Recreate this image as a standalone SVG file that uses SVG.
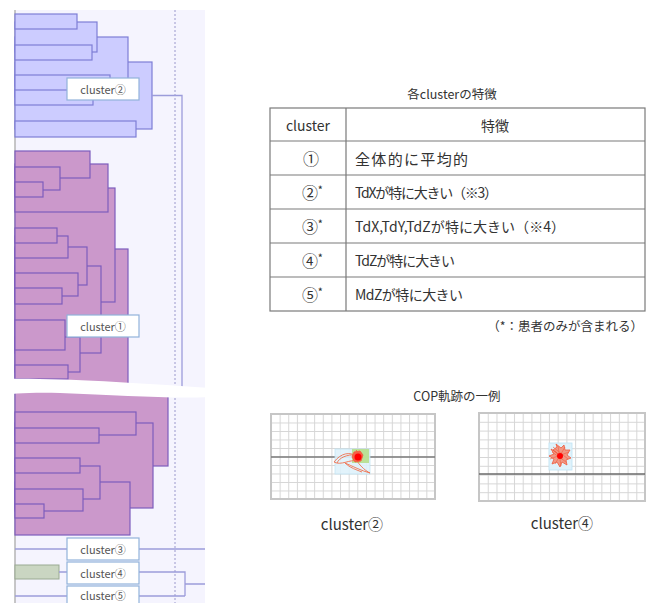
<svg xmlns="http://www.w3.org/2000/svg" width="653" height="603" viewBox="0 0 653 603">
<style>
  text { font-family: "Noto Sans CJK JP", "Noto Sans", sans-serif; fill: #333; }
  .blue rect { fill: #ccccff; stroke: #7e7ed6; stroke-width: 1.2; }
  .purp rect { fill: #cb98cb; stroke: #7d5cbd; stroke-width: 1.2; }
  .lbl rect { fill: #fff; stroke: #92b2da; stroke-width: 1.2; }
  .lbl text { font-size: 11px; fill: #555; text-anchor: middle; dominant-baseline: central; }
  .conn { fill: none; stroke: #9c9cda; stroke-width: 1.3; }
  .tbl { fill: none; stroke: #7a7a7a; stroke-width: 1.2; }
  .cell { font-size: 14px; dominant-baseline: central; }
  .num { font-size: 16px; dominant-baseline: central; }
  .grid-border { stroke: #c6c6c6; stroke-width: 2; }
</style>
<defs>
  <clipPath id="upper"><rect x="0" y="0" width="260" height="390"/></clipPath>
  <clipPath id="lower"><rect x="0" y="386" width="260" height="217"/></clipPath>
  <pattern id="gl" patternUnits="userSpaceOnUse" x="271" y="414" width="8.63" height="8.5">
    <path d="M0,0.5 H8.63 M0.5,0 V8.5" stroke="#d6d6d6" stroke-width="1" fill="none"/>
  </pattern>
  <pattern id="gr" patternUnits="userSpaceOnUse" x="479" y="413" width="8.74" height="8.8">
    <path d="M0,0.5 H8.74 M0.5,0 V8.8" stroke="#d6d6d6" stroke-width="1" fill="none"/>
  </pattern>
</defs>
<rect width="653" height="603" fill="#fff"/>
<!-- dendrogram panel -->
<rect x="15" y="10" width="190" height="593" fill="#f5f4fe"/>
<line x1="175" y1="10" x2="175" y2="603" stroke="#9a98cc" stroke-width="1" stroke-dasharray="2,2"/>
<line x1="15" y1="10" x2="15" y2="603" stroke="#b4b4b4" stroke-width="1.5"/>

<g id="cluster2-tree" class="blue">
  <rect x="15" y="62" width="137" height="67"/>
  <rect x="15" y="121" width="121" height="16"/>
  <rect x="15" y="37" width="113" height="49"/>
  <rect x="15" y="22" width="82" height="30"/>
  <rect x="15" y="14" width="62" height="15"/>
  <rect x="15" y="45" width="77" height="15"/>
  <rect x="15" y="75" width="95" height="22"/>
  <rect x="15" y="90" width="78" height="15"/>
</g>

<g id="cluster1-tree" class="purp" clip-path="url(#upper)">
  <rect x="15" y="249" width="113" height="160"/>
  <rect x="15" y="188" width="100" height="114"/>
  <rect x="15" y="164" width="93" height="48"/>
  <rect x="15" y="151" width="75" height="27"/>
  <rect x="15" y="167" width="45" height="23"/>
  <rect x="15" y="182" width="28" height="15"/>
  <rect x="15" y="266" width="86" height="87"/>
  <rect x="15" y="247" width="72" height="38"/>
  <rect x="15" y="236" width="53" height="22"/>
  <rect x="15" y="228" width="42" height="15"/>
  <rect x="15" y="273" width="63" height="23"/>
  <rect x="15" y="288" width="47" height="16"/>
  <rect x="15" y="337" width="65" height="35"/>
  <rect x="15" y="320" width="50" height="30"/>
  <rect x="15" y="365" width="53" height="14"/>
</g>

<g id="cluster1-tree-lower" class="purp" clip-path="url(#lower)">
  <rect x="15" y="370" width="153" height="96"/>
  <rect x="15" y="423" width="138" height="85"/>
  <rect x="15" y="412" width="121" height="23"/>
  <rect x="15" y="428" width="84" height="15"/>
  <rect x="15" y="482" width="115" height="53"/>
  <rect x="15" y="466" width="85" height="33"/>
  <rect x="15" y="458" width="65" height="15"/>
  <rect x="15" y="489" width="68" height="22"/>
  <rect x="15" y="504" width="29" height="14"/>
</g>

<g id="cluster4-leaf">
  <rect x="15" y="565" width="44" height="14" fill="#cad6c2" stroke="#9aaa92" stroke-width="1"/>
</g>

<g id="connectors">
  <path class="conn" d="M152,95.5 H182 V390"/>
  <path class="conn" d="M15,549 H67 M139,549 H205"/>
  <path class="conn" d="M59,572 H67 M139,572 H185 V596 M185,584 H205"/>
  <path class="conn" d="M15,596 H67 M139,596 H185"/>
</g>

<!-- omission break -->
<path d="M0,379 C60,378 120,382 210,388 L210,397 C170,399 120,395 60,393 C30,392 10,394 0,395 Z" fill="#fff"/>

<g id="label-cluster2" class="lbl"><rect x="67" y="78" width="72" height="22"/><text x="103" y="89">cluster②</text></g>
<g id="label-cluster1" class="lbl"><rect x="67" y="315" width="72" height="22"/><text x="103" y="326">cluster①</text></g>
<g id="label-cluster3" class="lbl"><rect x="67" y="538" width="72" height="22"/><text x="103" y="549">cluster③</text></g>
<g id="label-cluster4" class="lbl"><rect x="67" y="562" width="72" height="22"/><text x="103" y="573">cluster④</text></g>
<g id="label-cluster5" class="lbl"><rect x="67" y="586" width="72" height="22"/><text x="103" y="595">cluster⑤</text></g>

<!-- table -->
<g id="table">
  <text x="452" y="93" font-size="12.5" text-anchor="middle" dominant-baseline="central">各clusterの特徴</text>
  <rect class="tbl" x="270" y="108" width="375" height="203"/>
  <path class="tbl" d="M270,141 H645 M270,175 H645 M270,209 H645 M270,243 H645 M270,277 H645 M346,108 V311"/>
  <text class="cell" x="308" y="125" text-anchor="middle">cluster</text>
  <text class="cell" x="495" y="125" text-anchor="middle">特徴</text>
  <text class="num" x="303" y="158">①</text>
  <text class="num" x="302" y="192">②<tspan font-size="9" font-weight="bold" dy="-3">*</tspan></text>
  <text class="num" x="302" y="226">③<tspan font-size="9" font-weight="bold" dy="-3">*</tspan></text>
  <text class="num" x="302" y="260">④<tspan font-size="9" font-weight="bold" dy="-3">*</tspan></text>
  <text class="num" x="302" y="294">⑤<tspan font-size="9" font-weight="bold" dy="-3">*</tspan></text>
  <text class="cell" x="355" y="158" style="font-size:15px" textLength="113">全体的に平均的</text>
  <text class="cell" x="355" y="192" textLength="143">TdXが特に大きい（※3）</text>
  <text class="cell" x="355" y="226" textLength="210">TdX,TdY,TdZが特に大きい（※4）</text>
  <text class="cell" x="355" y="260" textLength="100">TdZが特に大きい</text>
  <text class="cell" x="355" y="294" textLength="108">MdZが特に大きい</text>
  <text x="643" y="325" font-size="12.5" text-anchor="end" dominant-baseline="central">（*：患者のみが含まれる）</text>
</g>

<!-- COP examples -->
<text x="457" y="395" font-size="12.5" text-anchor="middle" dominant-baseline="central">COP軌跡の一例</text>

<g id="cop-cluster2">
  <rect x="271" y="414" width="164" height="85" fill="url(#gl)" class="grid-border"/>
  <line x1="271" y1="457" x2="435" y2="457" stroke="#7a7a7a" stroke-width="1.6"/>
  <rect x="335" y="449" width="35" height="25" fill="#dff2fb" stroke="#bfe3f4" stroke-width="0.8" opacity="0.9"/>
  <rect x="352" y="449" width="17" height="14" fill="#b6df8c" opacity="0.9"/>
  <path d="M358,457 C350,451 341,453 334,462 C341,466 350,459 357,461 C361,467 366,471 370,473 C362,471 352,466 345,463 C350,468 357,470 362,472 M356,455 C347,454 339,458 337,463" fill="none" stroke="#f0704e" stroke-width="0.9"/>
  <path d="M354,452 L360,451 L363,455 L361,461 L355,462 L352,457 Z M356,450 L362,458 M353,460 L362,453" fill="#f46048" stroke="#f25a3e" stroke-width="0.8"/>
  <circle cx="358" cy="457" r="3.5" fill="#ff0000"/>
  <text x="352" y="523" font-size="15" text-anchor="middle" dominant-baseline="central">cluster②</text>
</g>

<g id="cop-cluster4">
  <rect x="479" y="413" width="166" height="88" fill="url(#gr)" class="grid-border"/>
  <line x1="479" y1="474" x2="645" y2="474" stroke="#6a6a6a" stroke-width="1.6"/>
  <rect x="549" y="443" width="23" height="27" fill="#dff2fb" stroke="#bfe3f4" stroke-width="0.8"/>
  <path d="M560,456 L553,450 L557,447 L556,444 L561,448 L564,445 L565,450 L570,450 L567,455 L571,458 L566,460 L567,465 L562,462 L560,467 L557,462 L552,464 L554,459 L549,456 L554,454 L551,449 L556,452 Z" fill="#f57a5e" fill-opacity="0.75" stroke="#f05a3c" stroke-width="0.8"/>
  <path d="M552,452 L566,462 M558,446 L561,466 M550,459 L569,452 M555,464 L565,447 M553,447 L568,459" fill="none" stroke="#f26548" stroke-width="0.7"/>
  <circle cx="560" cy="456" r="3" fill="#ff0000"/>
  <text x="562" y="522" font-size="15" text-anchor="middle" dominant-baseline="central">cluster④</text>
</g>
</svg>
